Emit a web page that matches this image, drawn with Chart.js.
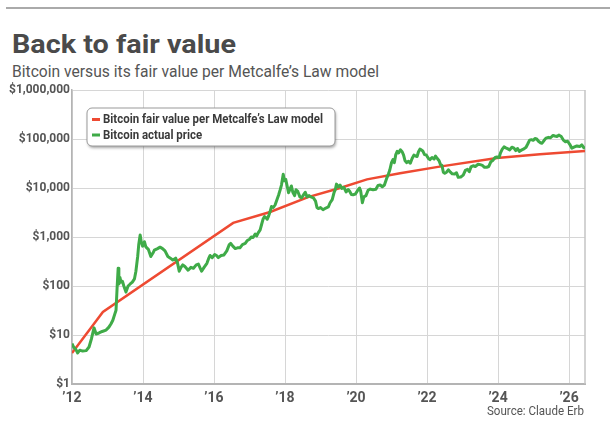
<!DOCTYPE html>
<html>
<head>
<meta charset="utf-8">
<script src="https://cdn.jsdelivr.net/npm/chart.js@4.4.1/dist/chart.umd.min.js"></script>
<style>
  html, body { margin: 0; padding: 0; background: #fff; }
  #wrap { position: relative; width: 610px; height: 430px; overflow: hidden;
          font-family: "Liberation Sans Narrow", "Roboto", sans-serif; }
  #rule { position: absolute; left: 6px; right: 0; top: 7px; height: 2px; background: #aaa; }
  .txt { position: absolute; white-space: nowrap; line-height: 1; transform-origin: 0 0; }
  #title { left: 12px; top: 32px; font-size: 25px; font-weight: bold; color: #4a4a4a; }
  #subtitle { left: 12px; top: 64px; font-size: 16.5px; color: #555; }
  #source { top: 404px; font-size: 13px; color: #555; }
  canvas { position: absolute; left: 0; top: 0; }
</style>
</head>
<body>
<div id="wrap">
  <div id="rule"></div>
  <div id="title" class="txt">Back to fair value</div>
  <div id="subtitle" class="txt">Bitcoin versus its fair value per Metcalfe’s Law model</div>
  <canvas id="chart" width="610" height="430"></canvas>
  <div id="source" class="txt">Source: Claude Erb</div>
</div>
<script>
// fair value per Metcalfe's Law model (decimal years, USD)
const fairYears = [2012.0, 2012.87, 2016.54, 2017.58, 2018.65, 2019.55, 2020.31, 2021.24, 2022.31, 2023.97, 2025.18, 2026.45];
const fairValue = [4.3, 29.5, 1940, 3240, 6500, 10000, 15000, 20000, 27000, 41000, 49000, 57000];

// actual bitcoin price
const actualYears = [
  2012.00, 2012.05, 2012.10, 2012.16, 2012.22, 2012.30, 2012.40, 2012.48, 2012.55, 2012.62, 2012.68, 2012.76, 2012.85, 2012.96,
  2013.04, 2013.10, 2013.15, 2013.20, 2013.24, 2013.27, 2013.30, 2013.32, 2013.35, 2013.38, 2013.42, 2013.46, 2013.52, 2013.58,
  2013.64, 2013.70, 2013.76, 2013.80, 2013.85, 2013.88, 2013.92, 2013.95, 2013.99,
  2014.04, 2014.08, 2014.15, 2014.22, 2014.28, 2014.32, 2014.41, 2014.48, 2014.55, 2014.62, 2014.70, 2014.77, 2014.84, 2014.92, 2014.97,
  2015.02, 2015.07, 2015.12, 2015.18, 2015.27, 2015.35, 2015.42, 2015.50, 2015.56, 2015.65, 2015.72, 2015.80, 2015.86, 2015.89, 2015.95,
  2016.02, 2016.07, 2016.12, 2016.20, 2016.28, 2016.36, 2016.43, 2016.47, 2016.53, 2016.60, 2016.66, 2016.73, 2016.80, 2016.88, 2016.94,
  2017.00, 2017.05, 2017.10, 2017.16, 2017.20, 2017.24, 2017.30, 2017.34, 2017.38, 2017.42, 2017.46, 2017.50, 2017.54, 2017.58, 2017.62,
  2017.67, 2017.72, 2017.77, 2017.82, 2017.86, 2017.90, 2017.95, 2017.98,
  2018.02, 2018.06, 2018.10, 2018.14, 2018.18, 2018.22, 2018.27, 2018.31, 2018.36, 2018.42, 2018.47, 2018.53, 2018.57, 2018.62, 2018.68,
  2018.74, 2018.80, 2018.86, 2018.90, 2018.94,
  2019.00, 2019.07, 2019.15, 2019.22, 2019.27, 2019.33, 2019.38, 2019.42, 2019.45, 2019.50, 2019.55, 2019.60, 2019.66, 2019.72, 2019.78,
  2019.82, 2019.87, 2019.92, 2019.98,
  2020.05, 2020.10, 2020.13, 2020.18, 2020.22, 2020.28, 2020.34, 2020.40, 2020.48, 2020.56, 2020.62, 2020.68, 2020.74, 2020.80, 2020.86,
  2020.91, 2020.95,
  2021.00, 2021.04, 2021.08, 2021.12, 2021.16, 2021.20, 2021.25, 2021.30, 2021.34, 2021.38, 2021.43, 2021.48, 2021.53, 2021.58, 2021.63,
  2021.68, 2021.72, 2021.76, 2021.80, 2021.84, 2021.88, 2021.93, 2021.98,
  2022.04, 2022.08, 2022.14, 2022.20, 2022.24, 2022.29, 2022.34, 2022.38, 2022.42, 2022.46, 2022.50, 2022.55, 2022.60, 2022.66, 2022.71,
  2022.78, 2022.83, 2022.88, 2022.95,
  2023.02, 2023.08, 2023.14, 2023.19, 2023.24, 2023.30, 2023.36, 2023.44, 2023.50, 2023.56, 2023.62, 2023.68, 2023.74, 2023.80, 2023.86,
  2023.92, 2023.97,
  2024.03, 2024.07, 2024.12, 2024.17, 2024.22, 2024.28, 2024.33, 2024.39, 2024.45, 2024.50, 2024.55, 2024.60, 2024.67, 2024.73, 2024.79,
  2024.84, 2024.89, 2024.94, 2024.99,
  2025.04, 2025.09, 2025.14, 2025.19, 2025.24, 2025.30, 2025.35, 2025.42, 2025.48, 2025.55, 2025.60, 2025.66, 2025.72, 2025.78, 2025.84,
  2025.90, 2025.96,
  2026.02, 2026.08, 2026.14, 2026.22, 2026.30, 2026.36, 2026.42, 2026.45
];
const actualPrice = [
  6.7, 5.6, 5.2, 4.3, 4.9, 4.7, 4.8, 5.7, 8.5, 14, 10.5, 11, 11.8, 12.6,
  14.5, 17, 20, 26, 32, 90, 230, 110, 150, 120, 125, 100, 75, 100,
  110, 120, 140, 200, 400, 700, 1100, 800, 650,
  800, 630, 560, 400, 470, 540, 580, 620, 580, 520, 400, 370, 340, 370, 300,
  200, 240, 270, 250, 210, 240, 230, 270, 280, 200, 240, 290, 380, 420, 380,
  440, 420, 380, 420, 430, 520, 700, 740, 650, 580, 600, 600, 700, 740, 850,
  900, 1000, 980, 1150, 1050, 1200, 1400, 1800, 2300, 2600, 2500, 2300, 2700, 3300, 4200,
  4000, 4500, 5700, 7200, 9000, 11500, 19000, 14000,
  15000, 11000, 8000, 9500, 11000, 8200, 7000, 9200, 8500, 6600, 6300, 7400, 8200, 6600, 7000,
  6500, 6300, 5400, 4000, 3800,
  4000, 3600, 3900, 4100, 5000, 5800, 8000, 9500, 12000, 10500, 11500, 9800, 10300, 8300, 9300,
  8600, 7400, 7300, 7500,
  9000, 10000, 8800, 5000, 6600, 7000, 9000, 9500, 9200, 9400, 11300, 11500, 10600, 11500, 15500,
  19000, 23000,
  33000, 38000, 33000, 48000, 56000, 52000, 60000, 55000, 47000, 36000, 33000, 35000, 32000, 40000, 47000,
  45000, 44000, 55000, 62000, 60000, 57000, 48000, 47000,
  40000, 38000, 42000, 39000, 45000, 40000, 36000, 30000, 29000, 21000, 20000, 21000, 23500, 21000, 19500,
  19300, 20500, 16500, 16800,
  18300, 23000, 24000, 21500, 27000, 28500, 27500, 30500, 30000, 29000, 26500, 26500, 27500, 34500, 37000,
  42000, 43000,
  42000, 52000, 62000, 69000, 66000, 63000, 60000, 68000, 65000, 58000, 64000, 56000, 60000, 63000, 68000,
  80000, 95000, 97000, 94000,
  102000, 100000, 90000, 84000, 82000, 94000, 104000, 108000, 106000, 118000, 115000, 113000, 120000, 112000, 95000,
  88000, 90000,
  78000, 65000, 68000, 72000, 70000, 76000, 66000, 65000
];

const xTicks = [2012, 2014, 2016, 2018, 2020, 2022, 2024, 2026];
const yTicks = [1, 10, 100, 1000, 10000, 100000, 1000000];

const FONT = '"Liberation Sans Narrow", "Roboto", sans-serif';
const RED = '#ee4a32';
const GREEN = '#3fab48';

// stretch the heading texts to the widths they have in the print graphic
function fitWidth(id, width) {
  const el = document.getElementById(id);
  const w = el.getBoundingClientRect().width;
  el.style.transform = 'scaleX(' + (width / w) + ')';
  return el;
}
fitWidth('title', 224);
fitWidth('subtitle', 367);
const src = fitWidth('source', 97);
src.style.left = (584 - 97) + 'px';

// legend box drawn inside the plot, top left
const legendBox = {
  id: 'legendBox',
  afterDatasetsDraw(chart) {
    const { ctx, chartArea } = chart;
    const items = [chart.data.datasets[0], chart.data.datasets[1]];
    ctx.save();
    ctx.font = 'bold 12.5px ' + FONT;
    const tw = Math.max(...items.map(d => ctx.measureText(d.label).width));
    const k = 220 / tw;   // condensed type, as in the print legend
    const x = chartArea.left + 15, y = chartArea.top + 18;
    const w = tw * k + 28, h = 38;
    ctx.shadowColor = 'rgba(0,0,0,0.35)';
    ctx.shadowBlur = 3;
    ctx.shadowOffsetX = 1;
    ctx.shadowOffsetY = 2;
    ctx.beginPath();
    ctx.roundRect(x, y, w, h, 5);
    ctx.fillStyle = '#fff';
    ctx.fill();
    ctx.shadowColor = 'transparent';
    ctx.strokeStyle = '#9a9a9a';
    ctx.lineWidth = 1;
    ctx.stroke();
    items.forEach((d, i) => {
      const cy = y + 11.5 + i * 15.5;
      ctx.strokeStyle = d.borderColor;
      ctx.lineWidth = 3;
      ctx.beginPath();
      ctx.moveTo(x + 5, cy);
      ctx.lineTo(x + 13, cy);
      ctx.stroke();
      ctx.save();
      ctx.translate(x + 16, cy + 0.5);
      ctx.scale(k, 1);
      ctx.fillStyle = '#3a3a3a';
      ctx.textBaseline = 'middle';
      ctx.fillText(d.label, 0, 0);
      ctx.restore();
    });
    ctx.restore();
  }
};

// right-hand frame line of the plot
const frame = {
  id: 'frame',
  beforeDatasetsDraw(chart) {
    const { ctx, chartArea } = chart;
    ctx.save();
    ctx.strokeStyle = '#c4c4c4';
    ctx.lineWidth = 1.5;
    ctx.beginPath();
    ctx.moveTo(chartArea.right, chartArea.top);
    ctx.lineTo(chartArea.right, chartArea.bottom);
    ctx.stroke();
    ctx.restore();
  }
};

new Chart(document.getElementById('chart'), {
  type: 'line',
  data: {
    datasets: [{
      label: 'Bitcoin fair value per Metcalfe’s Law model',
      data: fairYears.map((x, i) => ({ x: x, y: fairValue[i] })),
      borderColor: RED,
      borderWidth: 2.5,
      pointRadius: 0,
      order: 1
    }, {
      label: 'Bitcoin actual price',
      data: actualYears.map((x, i) => ({ x: x, y: actualPrice[i] })),
      borderColor: GREEN,
      borderWidth: 3,
      borderJoinStyle: 'round',
      pointRadius: 0,
      order: 0
    }]
  },
  options: {
    responsive: false,
    animation: false,
    layout: { padding: { top: 90, right: 25, left: 0, bottom: 0 } },
    plugins: {
      legend: { display: false },
      tooltip: { enabled: false }
    },
    scales: {
      x: {
        type: 'linear',
        min: 2012,
        max: 2026.45,
        afterBuildTicks: s => { s.ticks = xTicks.map(v => ({ value: v })); },
        afterFit: s => { s.height = 46; },
        grid: { color: '#d6d6d6', drawTicks: false },
        border: { color: '#b4b4b4', width: 2 },
        ticks: {
          callback: v => '’' + String(v).slice(2),
          font: { family: FONT, size: 14, weight: 'bold' },
          color: '#555',
          padding: 6,
          maxRotation: 0,
          autoSkip: false
        }
      },
      y: {
        type: 'logarithmic',
        min: 1,
        max: 1000000,
        afterBuildTicks: s => { s.ticks = yTicks.map(v => ({ value: v })); },
        afterFit: s => { s.width = 72; },
        grid: { color: '#d6d6d6', drawTicks: false },
        border: { color: '#b4b4b4', width: 1.5 },
        ticks: {
          callback: v => '$' + Number(v).toLocaleString('en-US'),
          font: { family: FONT, size: 12, weight: 'bold' },
          color: '#555',
          padding: 2,
          autoSkip: false
        }
      }
    }
  },
  plugins: [frame, legendBox]
});
</script>
</body>
</html>
